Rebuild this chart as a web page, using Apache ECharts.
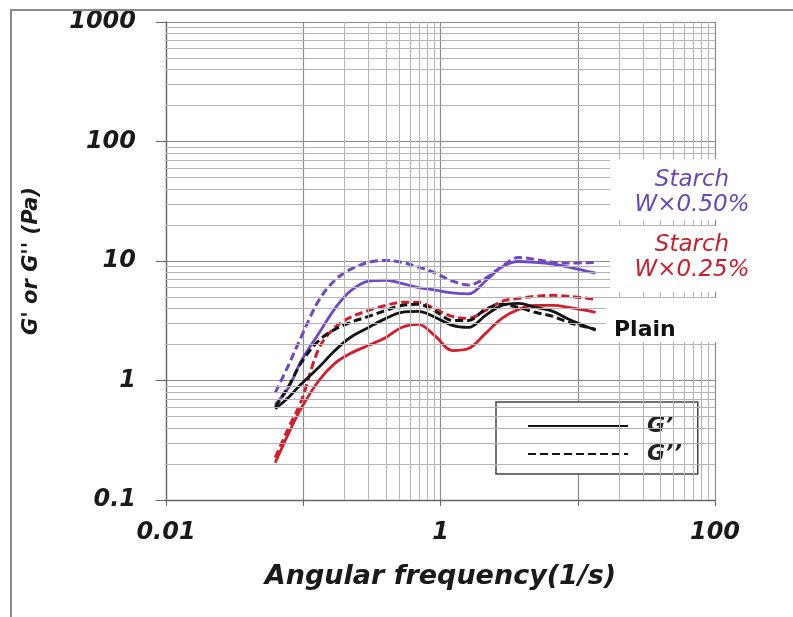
<!DOCTYPE html>
<html>
<head>
<meta charset="utf-8">
<script src="https://cdn.jsdelivr.net/npm/echarts@6/dist/echarts.min.js"></script>
<style>
  html, body { margin: 0; padding: 0; background: #fff; }
  #chart { width: 793px; height: 617px; }
</style>
</head>
<body>
<div id="chart"></div>
<script>
// Angular frequency (1/s) sampling points shared by all curves
const freq = [0.0625, 0.078, 0.097, 0.13, 0.17, 0.22, 0.3, 0.4, 0.52, 0.69, 0.92, 1.22, 1.6, 2.13, 2.8, 3.7, 4.9, 6.6, 8.6, 13.5];

// Storage modulus G' (Pa)
const plainG1    = [0.58, 0.72, 0.94, 1.29, 1.78, 2.29, 2.78, 3.31, 3.72, 3.79, 3.37, 2.89, 2.78, 3.51, 4.25, 4.42, 4.09, 3.79, 3.25, 2.63];
const starch25G1 = [0.205, 0.36, 0.59, 1.0, 1.39, 1.68, 1.97, 2.29, 2.78, 2.95, 2.34, 1.78, 1.85, 2.48, 3.31, 3.94, 4.25, 4.25, 4.09, 3.72];
const starch50G1 = [0.63, 0.87, 1.47, 2.48, 4.0, 5.6, 6.8, 6.9, 6.5, 6.0, 5.7, 5.4, 5.3, 6.8, 8.9, 9.9, 9.75, 9.4, 8.9, 7.9];

// Loss modulus G'' (Pa)
const plainG2    = [0.6, 0.89, 1.42, 2.16, 2.68, 3.06, 3.44, 3.86, 4.25, 4.34, 3.79, 3.18, 3.18, 3.94, 4.34, 4.09, 3.72, 3.44, 3.06, 2.68];
const starch25G2 = [0.226, 0.4, 0.68, 1.85, 2.78, 3.37, 3.86, 4.25, 4.51, 4.51, 3.94, 3.44, 3.31, 3.86, 4.59, 4.87, 5.06, 5.16, 5.06, 4.78];
const starch50G2 = [0.79, 1.34, 2.34, 4.7, 6.9, 8.5, 9.75, 10.1, 9.75, 8.9, 7.9, 6.8, 6.3, 7.2, 9.0, 10.7, 10.3, 9.75, 9.6, 9.75];

// Tick labels shown on each axis
const xTickLabels = ['0.01', '1', '100'];
const yTickLabels = ['0.1', '1', '10', '100', '1000'];

// Legend entries (line style key)
const legendNames = ['G\u2019', 'G\u2019\u2019'];

const PURPLE = '#7048c4';
const RED = '#d21e2c';
const BLACK = '#141414';
const FONT = '"DejaVu Sans", Verdana, sans-serif';

const pairs = vals => freq.map((f, i) => [f, vals[i]]);
const fmt = v => String(Number(Number(v).toPrecision(3)));

// Minor log grid lines (2..9 within a decade)
const yMinor = [];
[0.1, 1, 10, 100].forEach(d => { for (let m = 2; m <= 9; m++) yMinor.push(+(m * d).toPrecision(3)); });
const xMinor = [];
[0.1, 10].forEach(d => { for (let m = 2; m <= 9; m++) xMinor.push(+(m * d).toPrecision(3)); });

function curve(name, vals, color, dashed) {
  return {
    name: name,
    type: 'line',
    data: pairs(vals),
    smooth: 0.35,
    symbol: 'none',
    z: 3,
    lineStyle: { color: color, width: dashed ? 3 : 2.8, type: dashed ? [8, 4] : 'solid' },
    itemStyle: { color: color }
  };
}

const chart = echarts.init(document.getElementById('chart'));
chart.setOption({
  animation: false,
  backgroundColor: '#fff',
  grid: { left: 166, right: 78, top: 22, bottom: 117 },
  xAxis: {
    type: 'log',
    logBase: 10,
    min: 0.01,
    max: 100,
    name: 'Angular frequency(1/s)',
    nameLocation: 'middle',
    nameGap: 63,
    nameTextStyle: { fontFamily: FONT, fontWeight: 'bold', fontStyle: 'italic', fontSize: 27, color: '#1a1a1a' },
    axisLine: { show: true, lineStyle: { color: '#666', width: 1.3 } },
    axisTick: { show: true, length: 6, lineStyle: { color: '#666' } },
    axisLabel: {
      margin: 21,
      fontFamily: FONT, fontWeight: 'bold', fontStyle: 'italic', fontSize: 24, color: '#1a1a1a',
      formatter: v => (xTickLabels.includes(fmt(v)) ? fmt(v) : '')
    },
    splitLine: { show: true, lineStyle: { color: '#8c8c8c', width: 1.2 } }
  },
  yAxis: {
    type: 'log',
    logBase: 10,
    min: 0.1,
    max: 1000,
    name: "G' or G'' (Pa)",
    nameLocation: 'middle',
    nameRotate: 90,
    nameGap: 124,
    nameTextStyle: { fontFamily: FONT, fontWeight: 'bold', fontStyle: 'italic', fontSize: 21, color: '#1a1a1a' },
    axisLine: { show: true, lineStyle: { color: '#666', width: 1.3 } },
    axisTick: { show: true, length: 10, lineStyle: { color: '#666' } },
    axisLabel: {
      margin: 30,
      fontFamily: FONT, fontWeight: 'bold', fontStyle: 'italic', fontSize: 24, color: '#1a1a1a',
      formatter: v => (yTickLabels.includes(fmt(v)) ? fmt(v) : '')
    },
    splitLine: { show: true, lineStyle: { color: '#8c8c8c', width: 1.2 } }
  },
  legend: {
    data: legendNames,
    orient: 'vertical',
    left: 496,
    top: 402,
    padding: [13, 16, 9, 31],
    itemWidth: 100,
    itemHeight: 20,
    itemGap: 6,
    backgroundColor: '#fff',
    borderColor: '#444',
    borderWidth: 1.5,
    borderRadius: 0,
    selectedMode: false,
    itemStyle: { opacity: 0 },
    textStyle: { fontFamily: FONT, fontWeight: 'bold', fontStyle: 'italic', fontSize: 22, color: '#222', padding: [0, 0, 0, 14] }
  },
  series: [
    {
      name: 'grid-minor',
      type: 'line',
      data: [],
      z: 1,
      silent: true,
      markLine: {
        silent: true,
        symbol: ['none', 'none'],
        label: { show: false },
        lineStyle: { color: '#b4b4b4', width: 1, type: 'solid' },
        data: yMinor.map(v => ({ yAxis: v })).concat(xMinor.map(v => ({ xAxis: v })))
      }
    },
    { name: legendNames[0], type: 'line', data: [], symbol: 'none', lineStyle: { color: BLACK, width: 3.4, type: 'solid' }, itemStyle: { color: BLACK } },
    { name: legendNames[1], type: 'line', data: [], symbol: 'none', lineStyle: { color: BLACK, width: 3, type: [8, 4] }, itemStyle: { color: BLACK } },
    curve('Starch W×0.50% G\u2019\u2019', starch50G2, PURPLE, true),
    curve('Starch W×0.50% G\u2019', starch50G1, PURPLE, false),
    curve('Starch W×0.25% G\u2019\u2019', starch25G2, RED, true),
    curve('Starch W×0.25% G\u2019', starch25G1, RED, false),
    curve('Plain G\u2019\u2019', plainG2, BLACK, true),
    curve('Plain G\u2019', plainG1, BLACK, false)
  ],
  graphic: [
    // figure frame
    { type: 'polyline', z: 60, shape: { points: [[11, 617], [11, 10], [793, 10]] }, style: { stroke: '#8a8a8a', lineWidth: 2, fill: null } },
    // series name tags on white panels
    { type: 'rect', z: 50, shape: { x: 610, y: 159, width: 183, height: 61 }, style: { fill: '#fff' } },
    { type: 'rect', z: 50, shape: { x: 610, y: 226, width: 183, height: 66 }, style: { fill: '#fff' } },
    { type: 'rect', z: 50, shape: { x: 606, y: 298, width: 112, height: 44 }, style: { fill: '#fff' } },
    { type: 'text', z: 55, x: 692, y: 180, style: { text: 'Starch', fill: '#6a48b4', font: 'italic 23px ' + FONT, align: 'center', verticalAlign: 'middle' } },
    { type: 'text', z: 55, x: 692, y: 205, style: { text: 'W×0.50%', fill: '#6a48b4', font: 'italic 23px ' + FONT, align: 'center', verticalAlign: 'middle' } },
    { type: 'text', z: 55, x: 692, y: 245, style: { text: 'Starch', fill: '#c81e2a', font: 'italic 23px ' + FONT, align: 'center', verticalAlign: 'middle' } },
    { type: 'text', z: 55, x: 692, y: 270, style: { text: 'W×0.25%', fill: '#c81e2a', font: 'italic 23px ' + FONT, align: 'center', verticalAlign: 'middle' } },
    { type: 'text', z: 55, x: 614, y: 330, style: { text: 'Plain', fill: '#111', font: 'bold 22px ' + FONT, align: 'left', verticalAlign: 'middle' } }
  ]
});
</script>
</body>
</html>
